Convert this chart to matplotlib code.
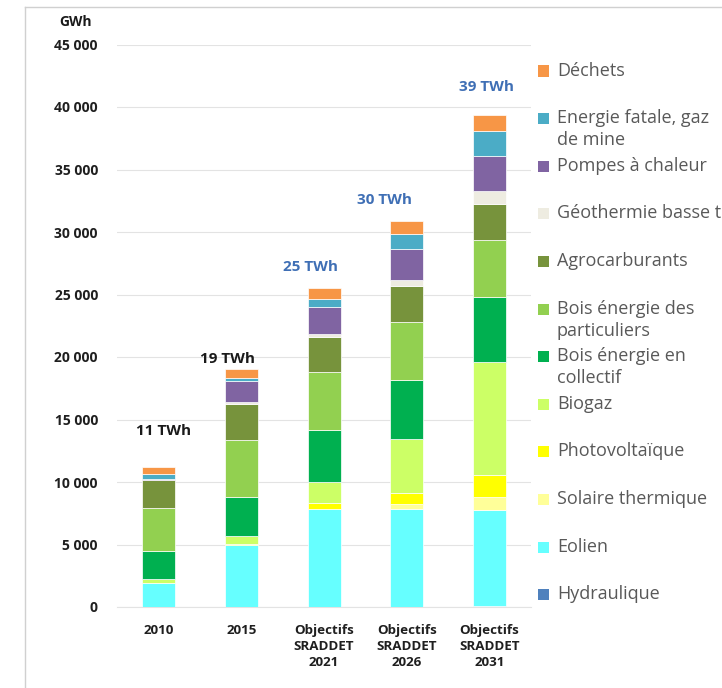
import matplotlib
matplotlib.use("Agg")
import matplotlib.pyplot as plt
from matplotlib.patches import Rectangle
from matplotlib.lines import Line2D
import numpy as np

categories = ["2010", "2015", "Objectifs\nSRADDET\n2021", "Objectifs\nSRADDET\n2026", "Objectifs\nSRADDET\n2031"]

# stacked series, bottom to top (GWh)
hydraulique = [30, 30, 30, 30, 100]
eolien = [1900, 4950, 7800, 7800, 7700]
solaire_thermique = [0, 20, 50, 400, 1000]
photovoltaique = [20, 30, 450, 900, 1780]
biogaz = [300, 650, 1700, 4300, 9000]
bois_collectif = [2250, 3100, 4130, 4730, 5200]
bois_particuliers = [3450, 4600, 4650, 4640, 4600]
agrocarburants = [2200, 2830, 2830, 2880, 2900]
geothermie = [30, 190, 200, 480, 1000]
pompes = [50, 1680, 2130, 2450, 2800]
energie_fatale = [400, 270, 700, 1230, 2000]
dechets = [550, 700, 830, 1060, 1280]

series_names = ["Hydraulique", "Eolien", "Solaire thermique", "Photovoltaïque", "Biogaz",
                "Bois énergie en\ncollectif", "Bois énergie des\nparticuliers", "Agrocarburants",
                "Géothermie basse température", "Pompes à chaleur",
                "Energie fatale, gaz\nde mine", "Déchets"]
series_values = [hydraulique, eolien, solaire_thermique, photovoltaique, biogaz,
                 bois_collectif, bois_particuliers, agrocarburants, geothermie, pompes,
                 energie_fatale, dechets]
colors = ["#4F81BD", "#66FFFF", "#FFFF99", "#FFFF00", "#CCFF66", "#00B050", "#92D050",
          "#77933C", "#EEECE1", "#8064A2", "#4BACC6", "#F79646"]

total_labels = ["11 TWh", "19 TWh", "25 TWh", "30 TWh", "39 TWh"]
total_label_y = [14100, 19850, 27200, 32550, 41600]
total_label_dx = [0.06, -0.17, -0.16, -0.27, -0.03]
total_label_colors = ["#1a1a1a", "#1a1a1a", "#3F6FB5", "#3F6FB5", "#3F6FB5"]

yticks = list(range(0, 45001, 5000))
ytick_labels = ["0" if v == 0 else f"{v//1000} 000" for v in yticks]

W, H = 722, 688
fig = plt.figure(figsize=(W/100, H/100), dpi=100)
font = "Open Sans"

ax = fig.add_axes([117.4/W, 1-607/H, (530.7-117.4)/W, (607-44.5)/H])
x = np.arange(len(categories))
bottom = np.zeros(len(categories))
for name, vals, c in zip(series_names, series_values, colors):
    ax.bar(x, vals, width=0.4, bottom=bottom, color=c, edgecolor="white", linewidth=0.5, zorder=3)
    bottom += np.array(vals)

ax.set_xlim(-0.5, len(categories)-0.5)
ax.set_ylim(0, 45000)
ax.set_yticks(yticks)
ax.set_yticklabels(ytick_labels, fontfamily=font, fontweight="bold", fontsize=10, color="#1f1f1f")
ax.set_xticks(x)
ax.set_xticklabels(categories, fontfamily=font, fontweight="bold", fontsize=9.6, color="#1f1f1f",
                   linespacing=1.3)
ax.tick_params(axis="y", length=0, pad=14)
ax.tick_params(axis="x", length=0, pad=12)
ax.grid(axis="y", color="#E3E3E3", linewidth=0.8, zorder=0)
for s in ["left", "right", "top"]:
    ax.spines[s].set_visible(False)
ax.spines["bottom"].set_color("#E3E3E3")
ax.spines["bottom"].set_linewidth(0.8)

for i, (lab, yv, dx, col) in enumerate(zip(total_labels, total_label_y, total_label_dx, total_label_colors)):
    ax.text(i + dx, yv, lab, ha="center", va="center", fontfamily=font, fontweight="bold",
            fontsize=11, color=col)

fig.text(59/W, 1-22/H, "GWh", ha="left", va="center", fontfamily=font, fontweight="bold",
         fontsize=10, color="#1a1a1a")

# legend (top to bottom)
leg_y0 = 71
leg_dy = 47.6
for k, (name, c) in enumerate(zip(series_names[::-1], colors[::-1])):
    yc = leg_y0 + k*leg_dy
    fig.add_artist(Rectangle(((538)/W, 1-(yc+5.5)/H), 11/W, 11/H, transform=fig.transFigure,
                             facecolor=c, edgecolor="none"))
    fig.text(557/W, 1-(yc-9.5)/H, name, ha="left", va="top", fontfamily=font, fontsize=13,
             color="#595959", linespacing=1.3)

# outer frame
fig.add_artist(Line2D([25/W, 25/W], [0, 1-7/H], transform=fig.transFigure, color="#D0D0D0", lw=1))
fig.add_artist(Line2D([25/W, 1], [1-7/H, 1-7/H], transform=fig.transFigure, color="#D0D0D0", lw=1))

fig.savefig("out.png", dpi=100)
